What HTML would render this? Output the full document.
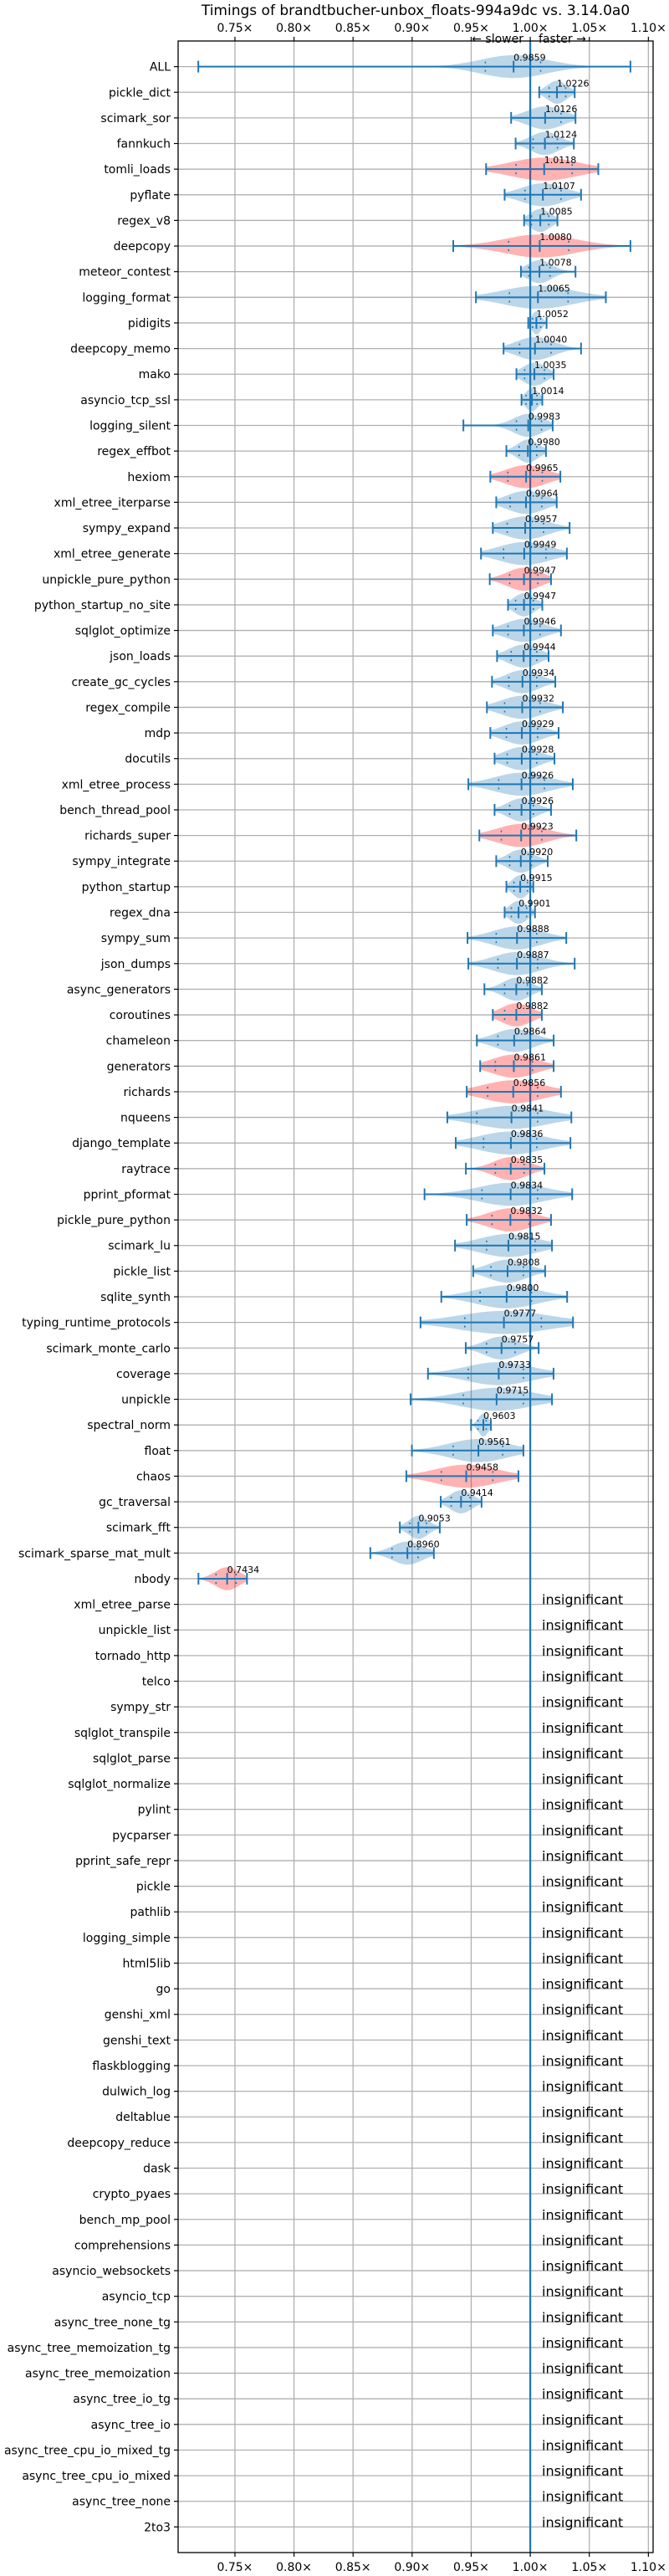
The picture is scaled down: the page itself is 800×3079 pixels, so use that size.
<!DOCTYPE html>
<html><head><meta charset="utf-8"><style>
html,body{margin:0;padding:0;background:#fff;}
svg{display:block;font-family:"DejaVu Sans","Liberation Sans",sans-serif;}
</style></head><body>
<svg id="chart" width="800" height="3079" viewBox="0 0 800 3079" xmlns="http://www.w3.org/2000/svg">
<text x="497" y="18" font-size="17" text-anchor="middle">Timings of brandtbucher-unbox_floats-994a9dc vs. 3.14.0a0</text>
<text x="626" y="51" font-size="14" text-anchor="end">← slower</text>
<text x="644" y="51" font-size="14">faster →</text>
<g id="grid"></g><g id="marks"></g><g id="axes"></g>
</svg>
<script>
const names = ["ALL","pickle_dict","scimark_sor","fannkuch","tomli_loads","pyflate","regex_v8","deepcopy","meteor_contest","logging_format","pidigits","deepcopy_memo","mako","asyncio_tcp_ssl","logging_silent","regex_effbot","hexiom","xml_etree_iterparse","sympy_expand","xml_etree_generate","unpickle_pure_python","python_startup_no_site","sqlglot_optimize","json_loads","create_gc_cycles","regex_compile","mdp","docutils","xml_etree_process","bench_thread_pool","richards_super","sympy_integrate","python_startup","regex_dna","sympy_sum","json_dumps","async_generators","coroutines","chameleon","generators","richards","nqueens","django_template","raytrace","pprint_pformat","pickle_pure_python","scimark_lu","pickle_list","sqlite_synth","typing_runtime_protocols","scimark_monte_carlo","coverage","unpickle","spectral_norm","float","chaos","gc_traversal","scimark_fft","scimark_sparse_mat_mult","nbody"];
const medians = [0.9859,1.0226,1.0126,1.0124,1.0118,1.0107,1.0085,1.0080,1.0078,1.0065,1.0052,1.0040,1.0035,1.0014,0.9983,0.9980,0.9965,0.9964,0.9957,0.9949,0.9947,0.9947,0.9946,0.9944,0.9934,0.9932,0.9929,0.9928,0.9926,0.9926,0.9923,0.9920,0.9915,0.9901,0.9888,0.9887,0.9882,0.9882,0.9864,0.9861,0.9856,0.9841,0.9836,0.9835,0.9834,0.9832,0.9815,0.9808,0.9800,0.9777,0.9757,0.9733,0.9715,0.9603,0.9561,0.9458,0.9414,0.9053,0.8960,0.7434];
const mins = [0.719,1.0076,0.9838,0.9876,0.9626,0.9783,0.9948,0.9348,0.9921,0.954,0.9983,0.9774,0.9883,0.9926,0.9434,0.9798,0.9662,0.9712,0.9683,0.9583,0.9657,0.9812,0.9683,0.9719,0.9676,0.9633,0.9662,0.9698,0.9476,0.9698,0.9569,0.9712,0.9798,0.9783,0.9469,0.9476,0.9612,0.9683,0.9548,0.9576,0.9462,0.9298,0.9369,0.9455,0.9105,0.9462,0.9363,0.9517,0.9247,0.9071,0.9454,0.9134,0.8987,0.9499,0.8998,0.8951,0.9242,0.8896,0.8646,0.7191];
const q1s = [0.962,1.016,1.000,1.0024,0.988,0.9955,1.001,0.9817,0.9988,0.9824,1.002,0.991,0.9952,0.9964,0.9883,0.9905,0.981,0.983,0.9805,0.9774,0.9826,0.9876,0.9812,0.9838,0.9819,0.9783,0.9798,0.9805,0.9733,0.9826,0.9755,0.9826,0.9862,0.984,0.9712,0.9726,0.9783,0.9783,0.9726,0.9705,0.964,0.9548,0.9605,0.9705,0.9591,0.9676,0.963,0.9667,0.9575,0.9446,0.963,0.9475,0.9433,0.9557,0.9347,0.9247,0.9331,0.898,0.883,0.734];
const q3s = [1.0088,1.030,1.026,1.023,1.0355,1.026,1.0157,1.0326,1.0167,1.032,1.0088,1.0176,1.012,1.0057,1.0095,1.0055,1.0102,1.0098,1.0112,1.0133,1.0064,1.0026,1.0083,1.0055,1.0055,1.0083,1.0062,1.0055,1.012,1.0026,1.0098,1.001,0.9976,0.9969,1.0055,1.0062,0.9976,0.9998,0.9998,1.0019,1.0062,1.0062,1.0055,0.9948,1.0062,0.999,1.0042,0.9942,1.001,1.0094,0.9871,0.9942,0.9942,0.9627,0.9767,0.9683,0.9491,0.9121,0.905,0.751];
const maxs = [1.0848,1.0376,1.0383,1.0369,1.0576,1.043,1.023,1.0848,1.0383,1.064,1.0138,1.043,1.0198,1.0102,1.019,1.0133,1.0255,1.0224,1.0333,1.031,1.0176,1.0102,1.026,1.0155,1.0212,1.0276,1.024,1.0205,1.036,1.0176,1.039,1.0148,1.0026,1.004,1.0305,1.0376,1.0098,1.0098,1.0198,1.0198,1.026,1.0348,1.034,1.012,1.0355,1.0176,1.0184,1.0126,1.0312,1.0362,1.0071,1.0197,1.0184,0.9667,0.9942,0.99,0.9588,0.9234,0.9184,0.7602];
const redRows = ["tomli_loads","deepcopy","hexiom","unpickle_pure_python","richards_super","coroutines","generators","richards","raytrace","pickle_pure_python","chaos","nbody"];
const insignificant = ["xml_etree_parse","unpickle_list","tornado_http","telco","sympy_str","sqlglot_transpile","sqlglot_parse","sqlglot_normalize","pylint","pycparser","pprint_safe_repr","pickle","pathlib","logging_simple","html5lib","go","genshi_xml","genshi_text","flaskblogging","dulwich_log","deltablue","deepcopy_reduce","dask","crypto_pyaes","bench_mp_pool","comprehensions","asyncio_websockets","asyncio_tcp","async_tree_none_tg","async_tree_memoization_tg","async_tree_memoization","async_tree_io_tg","async_tree_io","async_tree_cpu_io_mixed_tg","async_tree_cpu_io_mixed","async_tree_none","2to3"];
const xTicks = [0.75,0.80,0.85,0.90,0.95,1.00,1.05,1.10];

const NS="http://www.w3.org/2000/svg";
const L=213,R=781,T=49,B=3051;
const X0=0.7019,X1=1.104;
const xs=v=>L+(v-X0)/(X1-X0)*(R-L);
const nRows=names.length+insignificant.length;
const ys=i=>T+(i+1)*(B-T)/(nRows+1);
function mk(tag,attrs,parent){const e=document.createElementNS(NS,tag);for(const k in attrs)e.setAttribute(k,attrs[k]);parent.appendChild(e);return e;}
const grid=document.getElementById('grid'),marks=document.getElementById('marks'),axes=document.getElementById('axes');

xTicks.forEach(t=>{
  const x=xs(t);
  const g=mk('line',{x1:x,x2:x,y1:T,y2:B,stroke:'#b0b0b0','stroke-width':1.3},grid);
  
  
  [[T-5,T],[B,B+5]].forEach(p=>{mk('line',{x1:x,x2:x,y1:p[0],y2:p[1],stroke:'#000','stroke-width':1.2},axes);});
  const lab=t.toFixed(2)+'×';
  const a=mk('text',{x:x,y:38,'font-size':14,'text-anchor':'middle'},axes);a.textContent=lab;
  
  
  const b=mk('text',{x:x,y:3073,'font-size':14,'text-anchor':'middle'},axes);b.textContent=lab;
  
  
});
const allNames=names.concat(insignificant);
allNames.forEach((n,i)=>{
  const y=ys(i);
  const g=mk('line',{x1:L,x2:R,y1:y,y2:y,stroke:'#b0b0b0','stroke-width':1.3},grid);
  
  
  mk('line',{x1:L-5,x2:L,y1:y,y2:y,stroke:'#000','stroke-width':1.2},axes);
  const t=mk('text',{x:L-9,y:y+5,'font-size':14,'text-anchor':'end'},axes);t.textContent=n;
  
  
});
const ref=mk('line',{x1:xs(1),x2:xs(1),y1:T,y2:B,stroke:'#1f77b4','stroke-width':2.2},marks);



names.forEach((n,i)=>{
  const y=ys(i),md=medians[i],lo=mins[i],hi=maxs[i],a=q1s[i],b=q3s[i];
  const red=redRows.includes(n);
  const sig=Math.max((b-a)/1.7,0.002);
  const H=13.8;let top=[],bot=[];
  const N=40;
  for(let k=0;k<=N;k++){const v=lo+(hi-lo)*k/N;const d=Math.exp(-0.5*Math.pow((v-md)/sig,2));const w=Math.max(H*d,0.3);top.push(xs(v).toFixed(1)+','+(y-w).toFixed(1));bot.unshift(xs(v).toFixed(1)+','+(y+w).toFixed(1));}
  const vio=mk('polygon',{points:top.concat(bot).join(' '),fill:red?'#ff0000':'#1f77b4','fill-opacity':0.3},marks);
  
  
  const h=mk('line',{x1:xs(lo),x2:xs(hi),y1:y,y2:y,stroke:'#1f77b4','stroke-width':2},marks);
  
  
  [lo,hi,md].forEach(v=>mk('line',{x1:xs(v),x2:xs(v),y1:y-7,y2:y+7,stroke:'#1f77b4','stroke-width':2},marks));
  [a,b].forEach(v=>mk('line',{x1:xs(v),x2:xs(v),y1:y-6,y2:y+6,stroke:'#1f77b4','stroke-width':1.6,'stroke-dasharray':'2,3'},marks));
  const t=mk('text',{x:xs(md),y:y-7,'font-size':11},marks);t.textContent=md.toFixed(4);
  
  
});
insignificant.forEach((n,j)=>{
  const y=ys(names.length+j);
  const t=mk('text',{x:648,y:y,'font-size':16},marks);t.textContent='insignificant';
  
  
});
const sp=mk('rect',{x:L,y:T,width:R-L,height:B-T,fill:'none',stroke:'#000','stroke-width':1.3},axes);


</script>
</body></html>
